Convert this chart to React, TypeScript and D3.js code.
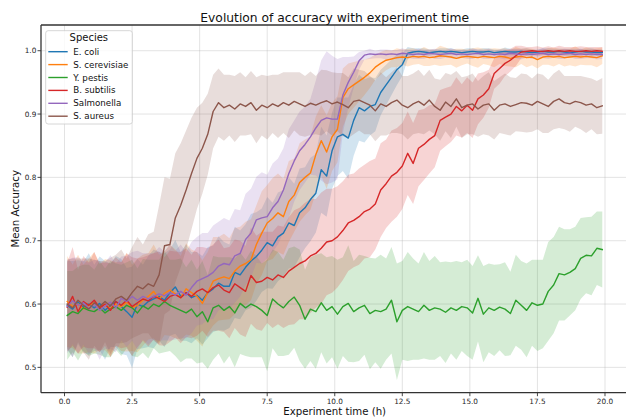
import React from "react";
import * as d3 from "d3";

// Sampling of the runs: one mean/std pair every 0.2 h, starting at 0.1 h
const FIRST_SAMPLE_H = 0.1;
const SAMPLE_STEP_H = 0.2;

const SPECIES = ["E. coli", "S. cerevisiae", "Y. pestis", "B. subtilis", "Salmonella", "S. aureus"];
const COLORS = ["#1f77b4", "#ff7f0e", "#2ca02c", "#d62728", "#9467bd", "#8c564b"];

const X_TICKS = [0, 2.5, 5, 7.5, 10, 12.5, 15, 17.5, 20];
const Y_TICKS = [0.5, 0.6, 0.7, 0.8, 0.9, 1.0];

const ECOLI_MEAN = [
  0.598, 0.592, 0.603, 0.595, 0.600, 0.594, 0.601, 0.590, 0.598, 0.604,
  0.596, 0.588, 0.579, 0.600, 0.596, 0.604, 0.608, 0.612, 0.606, 0.618,
  0.627, 0.612, 0.618, 0.610, 0.614, 0.606, 0.618, 0.624, 0.633, 0.628,
  0.628, 0.650, 0.646, 0.658, 0.668, 0.675, 0.685, 0.697, 0.692, 0.706,
  0.712, 0.728, 0.724, 0.744, 0.752, 0.765, 0.775, 0.812, 0.802, 0.842,
  0.864, 0.868, 0.862, 0.890, 0.910, 0.905, 0.912, 0.915, 0.934, 0.946,
  0.958, 0.970, 0.978, 0.996, 0.998, 0.999, 0.998, 0.997, 0.998, 0.999,
  0.998, 0.999, 0.998, 0.997, 0.998, 0.999, 0.998, 0.998, 0.999, 0.997,
  0.998, 0.999, 0.998, 0.998, 0.999, 0.998, 0.997, 0.998, 0.999, 0.998,
  0.998, 0.999, 0.998, 0.997, 0.998, 0.999, 0.998, 0.998, 0.997, 0.997,
];
const ECOLI_STD = [
  0.070, 0.076, 0.066, 0.072, 0.080, 0.068, 0.074, 0.078, 0.066, 0.072,
  0.075, 0.069, 0.080, 0.071, 0.066, 0.072, 0.078, 0.070, 0.074, 0.068,
  0.074, 0.070, 0.076, 0.072, 0.068, 0.070, 0.072, 0.068, 0.074, 0.070,
  0.066, 0.072, 0.070, 0.068, 0.074, 0.070, 0.066, 0.072, 0.068, 0.070,
  0.068, 0.072, 0.066, 0.070, 0.064, 0.066, 0.062, 0.068, 0.064, 0.060,
  0.062, 0.058, 0.064, 0.056, 0.052, 0.050, 0.046, 0.042, 0.036, 0.032,
  0.028, 0.024, 0.018, 0.010, 0.006, 0.005, 0.006, 0.005, 0.004, 0.005,
  0.006, 0.005, 0.004, 0.005, 0.006, 0.005, 0.004, 0.006, 0.005, 0.005,
  0.004, 0.006, 0.005, 0.005, 0.004, 0.006, 0.005, 0.004, 0.005, 0.006,
  0.005, 0.004, 0.005, 0.006, 0.005, 0.004, 0.005, 0.006, 0.005, 0.005,
];

const SCER_MEAN = [
  0.604, 0.596, 0.600, 0.592, 0.598, 0.602, 0.595, 0.599, 0.593, 0.600,
  0.596, 0.603, 0.594, 0.598, 0.606, 0.612, 0.620, 0.608, 0.617, 0.622,
  0.616, 0.610, 0.624, 0.618, 0.612, 0.601, 0.618, 0.636, 0.640, 0.643,
  0.640, 0.652, 0.660, 0.664, 0.670, 0.694, 0.712, 0.728, 0.735, 0.744,
  0.738, 0.762, 0.772, 0.792, 0.800, 0.807, 0.836, 0.858, 0.840, 0.864,
  0.876, 0.926, 0.940, 0.946, 0.952, 0.958, 0.965, 0.974, 0.980, 0.985,
  0.987, 0.989, 0.990, 0.989, 0.991, 0.990, 0.991, 0.989, 0.990, 0.992,
  0.991, 0.990, 0.988, 0.990, 0.991, 0.990, 0.989, 0.991, 0.990, 0.989,
  0.991, 0.990, 0.988, 0.990, 0.991, 0.989, 0.990, 0.986, 0.990, 0.991,
  0.990, 0.991, 0.989, 0.990, 0.991, 0.990, 0.991, 0.990, 0.989, 0.992,
];
const SCER_STD = [
  0.072, 0.066, 0.078, 0.070, 0.074, 0.080, 0.068, 0.072, 0.076, 0.066,
  0.070, 0.078, 0.068, 0.074, 0.072, 0.068, 0.074, 0.070, 0.066, 0.072,
  0.070, 0.066, 0.072, 0.068, 0.070, 0.068, 0.064, 0.070, 0.066, 0.068,
  0.064, 0.068, 0.062, 0.066, 0.064, 0.062, 0.066, 0.060, 0.064, 0.062,
  0.060, 0.064, 0.058, 0.062, 0.060, 0.058, 0.060, 0.056, 0.058, 0.054,
  0.052, 0.046, 0.040, 0.036, 0.032, 0.028, 0.024, 0.020, 0.018, 0.016,
  0.013, 0.015, 0.012, 0.014, 0.013, 0.011, 0.015, 0.013, 0.012, 0.016,
  0.014, 0.012, 0.015, 0.013, 0.011, 0.014, 0.016, 0.012, 0.013, 0.015,
  0.012, 0.014, 0.013, 0.016, 0.012, 0.015, 0.013, 0.014, 0.012, 0.013,
  0.015, 0.012, 0.014, 0.013, 0.016, 0.012, 0.014, 0.013, 0.015, 0.013,
];

const YPES_MEAN = [
  0.582, 0.588, 0.585, 0.594, 0.590, 0.588, 0.594, 0.586, 0.592, 0.596,
  0.590, 0.598, 0.594, 0.586, 0.597, 0.592, 0.600, 0.596, 0.604, 0.598,
  0.594, 0.590, 0.586, 0.592, 0.580, 0.588, 0.572, 0.594, 0.598, 0.590,
  0.596, 0.586, 0.601, 0.594, 0.600, 0.596, 0.590, 0.582, 0.608, 0.600,
  0.594, 0.604, 0.611, 0.598, 0.576, 0.592, 0.588, 0.602, 0.590, 0.596,
  0.584, 0.596, 0.601, 0.588, 0.594, 0.598, 0.585, 0.590, 0.588, 0.592,
  0.606, 0.572, 0.590, 0.596, 0.592, 0.588, 0.598, 0.590, 0.594, 0.592,
  0.587, 0.594, 0.590, 0.596, 0.594, 0.586, 0.609, 0.584, 0.594, 0.590,
  0.595, 0.592, 0.585, 0.606, 0.598, 0.590, 0.602, 0.598, 0.600, 0.620,
  0.630, 0.648, 0.646, 0.650, 0.656, 0.672, 0.677, 0.676, 0.688, 0.686,
];
const YPES_STD = [
  0.070, 0.064, 0.074, 0.068, 0.072, 0.066, 0.074, 0.070, 0.076, 0.068,
  0.072, 0.068, 0.076, 0.070, 0.074, 0.078, 0.070, 0.074, 0.080, 0.072,
  0.076, 0.082, 0.072, 0.078, 0.074, 0.080, 0.074, 0.082, 0.076, 0.084,
  0.078, 0.086, 0.080, 0.076, 0.084, 0.080, 0.074, 0.088, 0.078, 0.082,
  0.076, 0.084, 0.080, 0.088, 0.078, 0.082, 0.090, 0.078, 0.084, 0.080,
  0.086, 0.078, 0.092, 0.080, 0.084, 0.078, 0.088, 0.082, 0.090, 0.080,
  0.084, 0.092, 0.078, 0.086, 0.080, 0.076, 0.084, 0.078, 0.082, 0.074,
  0.080, 0.072, 0.078, 0.070, 0.076, 0.074, 0.068, 0.076, 0.070, 0.072,
  0.068, 0.074, 0.066, 0.072, 0.070, 0.074, 0.068, 0.072, 0.070, 0.078,
  0.076, 0.074, 0.072, 0.068, 0.066, 0.064, 0.060, 0.062, 0.058, 0.060,
];

const BSUB_MEAN = [
  0.595, 0.612, 0.588, 0.604, 0.598, 0.606, 0.594, 0.600, 0.590, 0.604,
  0.598, 0.606, 0.596, 0.602, 0.608, 0.605, 0.612, 0.609, 0.604, 0.612,
  0.615, 0.610, 0.618, 0.612, 0.620, 0.624, 0.618, 0.626, 0.630, 0.622,
  0.618, 0.632, 0.626, 0.620, 0.645, 0.634, 0.636, 0.642, 0.638, 0.646,
  0.642, 0.652, 0.658, 0.664, 0.668, 0.676, 0.680, 0.688, 0.698, 0.700,
  0.706, 0.716, 0.728, 0.732, 0.738, 0.746, 0.750, 0.758, 0.780, 0.790,
  0.802, 0.808, 0.818, 0.838, 0.822, 0.846, 0.852, 0.860, 0.866, 0.890,
  0.895, 0.900, 0.912, 0.905, 0.914, 0.906, 0.924, 0.930, 0.940, 0.964,
  0.972, 0.980, 0.985, 0.992, 0.998, 0.999, 1.000, 0.999, 0.999, 1.000,
  0.999, 1.000, 0.999, 1.000, 0.999, 0.999, 1.000, 0.999, 1.000, 0.999,
];
const BSUB_STD = [
  0.070, 0.078, 0.066, 0.072, 0.068, 0.076, 0.070, 0.066, 0.074, 0.070,
  0.068, 0.074, 0.078, 0.070, 0.066, 0.072, 0.068, 0.074, 0.070, 0.072,
  0.068, 0.072, 0.070, 0.066, 0.070, 0.066, 0.070, 0.068, 0.072, 0.066,
  0.072, 0.070, 0.074, 0.072, 0.076, 0.074, 0.078, 0.072, 0.076, 0.078,
  0.080, 0.085, 0.090, 0.088, 0.092, 0.090, 0.086, 0.088, 0.084, 0.082,
  0.080, 0.078, 0.076, 0.074, 0.076, 0.074, 0.076, 0.072, 0.074, 0.070,
  0.072, 0.070, 0.068, 0.066, 0.064, 0.060, 0.056, 0.054, 0.050, 0.048,
  0.046, 0.044, 0.046, 0.042, 0.044, 0.044, 0.040, 0.036, 0.030, 0.024,
  0.024, 0.020, 0.018, 0.016, 0.010, 0.007, 0.006, 0.008, 0.006, 0.007,
  0.006, 0.008, 0.007, 0.006, 0.007, 0.008, 0.006, 0.007, 0.006, 0.007,
];

const SALM_MEAN = [
  0.596, 0.605, 0.598, 0.602, 0.593, 0.600, 0.590, 0.597, 0.603, 0.594,
  0.609, 0.604, 0.612, 0.606, 0.612, 0.608, 0.612, 0.616, 0.613, 0.618,
  0.614, 0.620, 0.614, 0.626, 0.636, 0.640, 0.644, 0.650, 0.660, 0.664,
  0.662, 0.676, 0.680, 0.702, 0.712, 0.733, 0.736, 0.738, 0.752, 0.762,
  0.780, 0.806, 0.826, 0.842, 0.852, 0.864, 0.878, 0.890, 0.894, 0.892,
  0.892, 0.930, 0.950, 0.966, 0.984, 0.993, 0.995, 0.994, 0.995, 0.994,
  0.995, 0.994, 0.996, 0.995, 0.994, 0.995, 0.994, 0.996, 0.995, 0.994,
  0.995, 0.996, 0.994, 0.995, 0.994, 0.995, 0.996, 0.994, 0.995, 0.994,
  0.995, 0.994, 0.996, 0.995, 0.994, 0.995, 0.994, 0.995, 0.996, 0.994,
  0.995, 0.994, 0.995, 0.996, 0.994, 0.995, 0.994, 0.995, 0.994, 0.994,
];
const SALM_STD = [
  0.074, 0.068, 0.076, 0.066, 0.072, 0.070, 0.078, 0.068, 0.074, 0.070,
  0.066, 0.072, 0.070, 0.078, 0.068, 0.072, 0.068, 0.074, 0.070, 0.076,
  0.070, 0.074, 0.068, 0.072, 0.070, 0.072, 0.068, 0.074, 0.070, 0.072,
  0.070, 0.074, 0.068, 0.072, 0.070, 0.068, 0.072, 0.066, 0.070, 0.068,
  0.066, 0.070, 0.064, 0.062, 0.060, 0.060, 0.075, 0.095, 0.105, 0.100,
  0.095, 0.060, 0.040, 0.025, 0.014, 0.007, 0.008, 0.006, 0.007, 0.008,
  0.006, 0.007, 0.008, 0.006, 0.007, 0.008, 0.007, 0.006, 0.008, 0.007,
  0.006, 0.008, 0.007, 0.006, 0.007, 0.008, 0.006, 0.007, 0.008, 0.006,
  0.007, 0.008, 0.006, 0.007, 0.008, 0.006, 0.007, 0.006, 0.008, 0.007,
  0.006, 0.007, 0.008, 0.006, 0.007, 0.008, 0.006, 0.007, 0.008, 0.007,
];

const SAUR_MEAN = [
  0.600, 0.594, 0.606, 0.598, 0.592, 0.602, 0.596, 0.604, 0.597, 0.608,
  0.612, 0.606, 0.618, 0.628, 0.624, 0.632, 0.628, 0.646, 0.692, 0.694,
  0.736, 0.756, 0.780, 0.806, 0.830, 0.846, 0.868, 0.904, 0.918, 0.910,
  0.914, 0.908, 0.916, 0.912, 0.918, 0.906, 0.914, 0.910, 0.916, 0.912,
  0.918, 0.914, 0.920, 0.916, 0.912, 0.917, 0.914, 0.918, 0.921, 0.916,
  0.919, 0.915, 0.910, 0.920, 0.922, 0.918, 0.914, 0.905, 0.916, 0.912,
  0.918, 0.922, 0.914, 0.910, 0.916, 0.920, 0.914, 0.922, 0.912, 0.906,
  0.919, 0.912, 0.924, 0.910, 0.914, 0.916, 0.908, 0.914, 0.916, 0.906,
  0.914, 0.916, 0.912, 0.915, 0.918, 0.917, 0.914, 0.920, 0.916, 0.912,
  0.920, 0.924, 0.918, 0.916, 0.920, 0.918, 0.914, 0.916, 0.910, 0.913,
];
const SAUR_STD = [
  0.070, 0.078, 0.066, 0.074, 0.080, 0.068, 0.072, 0.064, 0.076, 0.070,
  0.074, 0.066, 0.072, 0.078, 0.070, 0.078, 0.086, 0.110, 0.108, 0.104,
  0.102, 0.098, 0.094, 0.088, 0.080, 0.072, 0.064, 0.058, 0.054, 0.052,
  0.048, 0.052, 0.050, 0.046, 0.050, 0.052, 0.048, 0.050, 0.046, 0.050,
  0.048, 0.052, 0.046, 0.050, 0.048, 0.050, 0.046, 0.052, 0.048, 0.050,
  0.046, 0.050, 0.048, 0.052, 0.048, 0.050, 0.046, 0.048, 0.050, 0.046,
  0.048, 0.052, 0.046, 0.050, 0.048, 0.050, 0.046, 0.048, 0.044, 0.048,
  0.046, 0.050, 0.044, 0.048, 0.046, 0.048, 0.044, 0.046, 0.050, 0.046,
  0.044, 0.048, 0.046, 0.042, 0.046, 0.046, 0.042, 0.044, 0.046, 0.042,
  0.044, 0.046, 0.042, 0.044, 0.040, 0.042, 0.044, 0.040, 0.042, 0.044,
];

const MEANS = [ECOLI_MEAN, SCER_MEAN, YPES_MEAN, BSUB_MEAN, SALM_MEAN, SAUR_MEAN];
const STDS = [ECOLI_STD, SCER_STD, YPES_STD, BSUB_STD, SALM_STD, SAUR_STD];

const W = 626;
const H = 417;
const AX = { left: 41, right: 628.5, top: 25, bottom: 392.7 };
const FONT = "'DejaVu Sans', sans-serif";

type Pt = { t: number; m: number; s: number };

export default function App() {
  const x = d3.scaleLinear().domain([-0.87, 20.87]).range([AX.left, AX.right]);
  const y = d3.scaleLinear().domain([0.46, 1.0406]).range([AX.bottom, AX.top]);

  const series: Pt[][] = MEANS.map((means, k) =>
    means.map((m, i) => ({ t: FIRST_SAMPLE_H + SAMPLE_STEP_H * i, m, s: STDS[k][i] }))
  );

  const line = d3
    .line<Pt>()
    .x((d) => x(d.t))
    .y((d) => y(d.m));
  const band = d3
    .area<Pt>()
    .x((d) => x(d.t))
    .y0((d) => y(d.m - d.s))
    .y1((d) => y(d.m + d.s));

  const axisColor = "#333333";
  const tickText = "#262626";

  const legendX = 45.7;
  const legendY = 30.7;
  const rowGap = 12.9;

  return (
    <div style={{ position: "fixed", left: 0, top: 0, width: W, height: H, background: "#fff" }}>
      <svg width={W} height={H} viewBox={`0 0 ${W} ${H}`} style={{ display: "block" }}>
        <defs>
          <clipPath id="plot-area">
            <rect x={AX.left} y={AX.top} width={AX.right - AX.left} height={AX.bottom - AX.top} />
          </clipPath>
        </defs>
        <rect x={0} y={0} width={W} height={H} fill="#fff" />

        {/* grid */}
        <g stroke="#b0b0b0" strokeOpacity={0.35} strokeWidth={1}>
          {X_TICKS.map((t) => (
            <line key={`gx${t}`} x1={x(t)} x2={x(t)} y1={AX.top} y2={AX.bottom} />
          ))}
          {Y_TICKS.map((v) => (
            <line key={`gy${v}`} x1={AX.left} x2={AX.right} y1={y(v)} y2={y(v)} />
          ))}
        </g>

        {/* std bands sit beneath all mean lines */}
        <g clipPath="url(#plot-area)">
          {series.map((pts, k) => (
            <path key={`b${k}`} d={band(pts) ?? ""} fill={COLORS[k]} fillOpacity={0.2} stroke="none" />
          ))}
          {series.map((pts, k) => (
            <path
              key={`l${k}`}
              d={line(pts) ?? ""}
              fill="none"
              stroke={COLORS[k]}
              strokeWidth={1.4}
              strokeLinejoin="round"
              strokeLinecap="square"
            />
          ))}
        </g>

        {/* spines */}
        <g stroke={axisColor} strokeWidth={1.3} fill="none">
          <line x1={AX.left} x2={AX.left} y1={AX.top} y2={AX.bottom} />
          <line x1={AX.left} x2={AX.right} y1={AX.bottom} y2={AX.bottom} />
          <line x1={AX.left} x2={AX.right} y1={AX.top} y2={AX.top} />
          <line x1={AX.right} x2={AX.right} y1={AX.top} y2={AX.bottom} />
        </g>

        {/* ticks and tick labels */}
        <g fontFamily={FONT} fontSize={7.3} fill={tickText}>
          {X_TICKS.map((t) => (
            <g key={`tx${t}`}>
              <line x1={x(t)} x2={x(t)} y1={AX.bottom} y2={AX.bottom + 3.5} stroke={axisColor} strokeWidth={0.9} />
              <text x={x(t)} y={403.5} textAnchor="middle">
                {t.toFixed(1)}
              </text>
            </g>
          ))}
          {Y_TICKS.map((v) => (
            <g key={`ty${v}`}>
              <line x1={AX.left - 3.5} x2={AX.left} y1={y(v)} y2={y(v)} stroke={axisColor} strokeWidth={0.9} />
              <text x={36.3} y={y(v)} dy="0.36em" textAnchor="end">
                {v.toFixed(1)}
              </text>
            </g>
          ))}
        </g>

        {/* axis labels and title */}
        <text x={334.7} y={414.5} textAnchor="middle" fontFamily={FONT} fontSize={10.2} fill="#111">
          Experiment time (h)
        </text>
        <text
          transform={`translate(19.2, ${(AX.top + AX.bottom) / 2}) rotate(-90)`}
          textAnchor="middle"
          fontFamily={FONT}
          fontSize={10.2}
          fill="#111"
        >
          Mean Accuracy
        </text>
        <text x={334.7} y={21.5} textAnchor="middle" fontFamily={FONT} fontSize={12.3} fill="#111">
          Evolution of accuracy with experiment time
        </text>

        {/* legend */}
        <g fontFamily={FONT}>
          <rect
            x={legendX}
            y={legendY}
            width={86.6}
            height={93.3}
            rx={2.5}
            fill="#fff"
            fillOpacity={0.8}
            stroke="#cccccc"
            strokeWidth={0.8}
          />
          <text x={88.8} y={40.8} textAnchor="middle" fontSize={10} fill="#111">
            Species
          </text>
          {SPECIES.map((name, k) => {
            const cy = 51.7 + rowGap * k;
            return (
              <g key={name}>
                <line x1={48.3} x2={67.7} y1={cy} y2={cy} stroke={COLORS[k]} strokeWidth={1.4} />
                <text x={73.3} y={cy} dy="0.35em" fontSize={8.7} fill="#111">
                  {name}
                </text>
              </g>
            );
          })}
        </g>
      </svg>
    </div>
  );
}
